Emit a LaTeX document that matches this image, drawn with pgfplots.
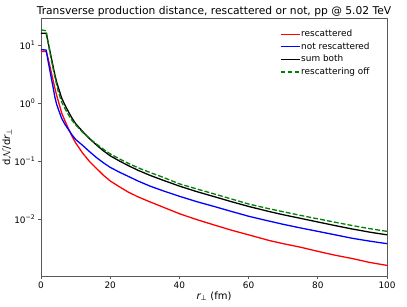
\documentclass[border=0pt]{standalone}
\usepackage{fontspec}
\setmainfont{DejaVu Sans}
\usepackage{pgfplots}
\pgfplotsset{compat=1.18}
\definecolor{mplgreen}{rgb}{0,0.5,0}
\definecolor{spine}{gray}{0.35}
\begin{document}
\begin{tikzpicture}
\begin{axis}[
  name=ax,
  width=346pt, height=258pt, scale only axis,
  ymode=log,
  xmin=0, xmax=100, ymin=1.05e-3, ymax=30,
  xtick={0,20,40,60,80,100},
  ytick={1e-2,1e-1,1,10},
  yticklabels={10\textsuperscript{−2},10\textsuperscript{−1},10\textsuperscript{0},10\textsuperscript{1}},
  /pgf/number format/assume math mode=true,
  tick pos=left,
  tick align=outside,
  major tick length=3pt,
  minor tick length=0pt,
  axis line style={spine, line width=0.7pt},
  every tick/.style={spine, line width=0.7pt},
  tick label style={font=\fontsize{8.9}{10}\selectfont},
  xticklabel style={inner sep=1pt, yshift=-2pt},
  yticklabel style={inner sep=1pt, xshift=-1.5pt},
  title={Transverse production distance, rescattered or not, pp @ 5.02 TeV},
  every axis title/.style={at={(0.5,1)}, anchor=base, yshift=3.5pt, inner sep=0pt, font=\fontsize{10.7}{12}\selectfont},
  xlabel={{\itshape r}\textsubscript{⊥} (fm)},
  xlabel style={font=\fontsize{8.9}{10}\selectfont},
  every axis x label/.style={at={(rel axis cs:0.5,0)}, anchor=center, yshift=-20pt},
  ylabel={d$\mathcal{N}$/d{\itshape r}\textsubscript{⊥}},
  ylabel style={font=\fontsize{8.9}{10}\selectfont},
  every axis y label/.style={at={(rel axis cs:0,0.5)}, anchor=center, rotate=90, yshift=34pt},
  legend cell align=left,
  legend style={at={(rel axis cs:0.69,0.958)}, anchor=north west, draw=none, fill=none,
    font=\fontsize{8.9}{10}\selectfont, row sep=2.3pt, inner sep=0pt,
    nodes={inner sep=1pt}},
  legend image code/.code={\draw[line width=1.3pt,#1] plot coordinates {(0pt,0pt) (19pt,0pt)};},
  line join=round,
]
\addplot[color=red, line width=1.3pt] coordinates {
(0,7.9)(1.5,7.9)(2,6.2)(2.5,4.6)(3,3.4)(3.5,2.5)(4,1.85)(4.5,1.4)(5,1.1)(6,0.68)(7,0.49)(8,0.36)(9,0.27)(10,0.21)(12,0.14)(14,0.10)(16,0.076)(18,0.058)(20,0.046)(22.5,0.037)(25,0.030)(28,0.0245)(31.5,0.020)(35,0.0165)(40,0.0125)(45,0.0099)(50,0.0080)(55,0.0065)(60,0.0054)(66,0.0043)(70,0.0038)(75,0.0033)(80,0.0028)(85,0.0024)(90,0.0021)(95,0.0018)(100,0.0016)};
\addlegendentry{rescattered}
\addplot[color=blue, line width=1.3pt] coordinates {
(0,8.5)(1.5,8.4)(2,5.6)(2.5,3.9)(3,2.7)(3.5,1.9)(4,1.3)(4.5,0.98)(5,0.8)(6,0.55)(7,0.43)(8,0.35)(9,0.285)(10,0.24)(12,0.19)(14,0.148)(16,0.117)(18,0.095)(20,0.079)(22.5,0.066)(25,0.056)(28,0.046)(31.5,0.0375)(35,0.0315)(40,0.0250)(45,0.0202)(50,0.0167)(55,0.0137)(60,0.0113)(66,0.0093)(70,0.0082)(75,0.0071)(80,0.0062)(85,0.0054)(90,0.0047)(95,0.0042)(100,0.0038)};
\addlegendentry{not rescattered}
\addplot[color=black, line width=1.3pt] coordinates {
(0,16.4)(1.5,16.3)(2,11.8)(2.5,8.5)(3,6.1)(3.5,4.4)(4,3.15)(4.5,2.38)(5,1.9)(6,1.23)(7,0.92)(8,0.71)(9,0.555)(10,0.45)(12,0.33)(14,0.248)(16,0.193)(18,0.153)(20,0.125)(22.5,0.103)(25,0.086)(28,0.0705)(31.5,0.0575)(35,0.048)(40,0.0375)(45,0.0301)(50,0.0247)(55,0.0202)(60,0.0167)(66,0.0136)(70,0.0120)(75,0.0104)(80,0.0090)(85,0.0078)(90,0.0068)(95,0.0060)(100,0.0054)};
\addlegendentry{sum both}
\addplot[color=mplgreen, line width=1.3pt, dash pattern=on 4.9pt off 2.1pt] coordinates {
(0,18.8)(1.5,18.0)(2,12.0)(2.5,8.0)(3,5.6)(3.5,4.0)(4,2.9)(4.5,2.15)(5,1.6)(6,1.05)(7,0.8)(8,0.63)(9,0.51)(10,0.43)(12,0.32)(14,0.25)(16,0.20)(18,0.163)(20,0.135)(22.5,0.112)(25,0.094)(28,0.078)(31.5,0.0645)(35,0.054)(40,0.041)(45,0.0335)(50,0.0275)(55,0.0225)(60,0.0184)(66,0.0152)(70,0.0135)(75,0.0117)(80,0.0102)(85,0.0089)(90,0.0078)(95,0.0069)(100,0.0062)};
\addlegendentry{rescattering off}
\end{axis}
\pgfresetboundingbox
\path ([shift={(-41pt,-31pt)}]ax.south west) rectangle ([shift={(20pt,18pt)}]ax.north east);
\end{tikzpicture}
\end{document}
